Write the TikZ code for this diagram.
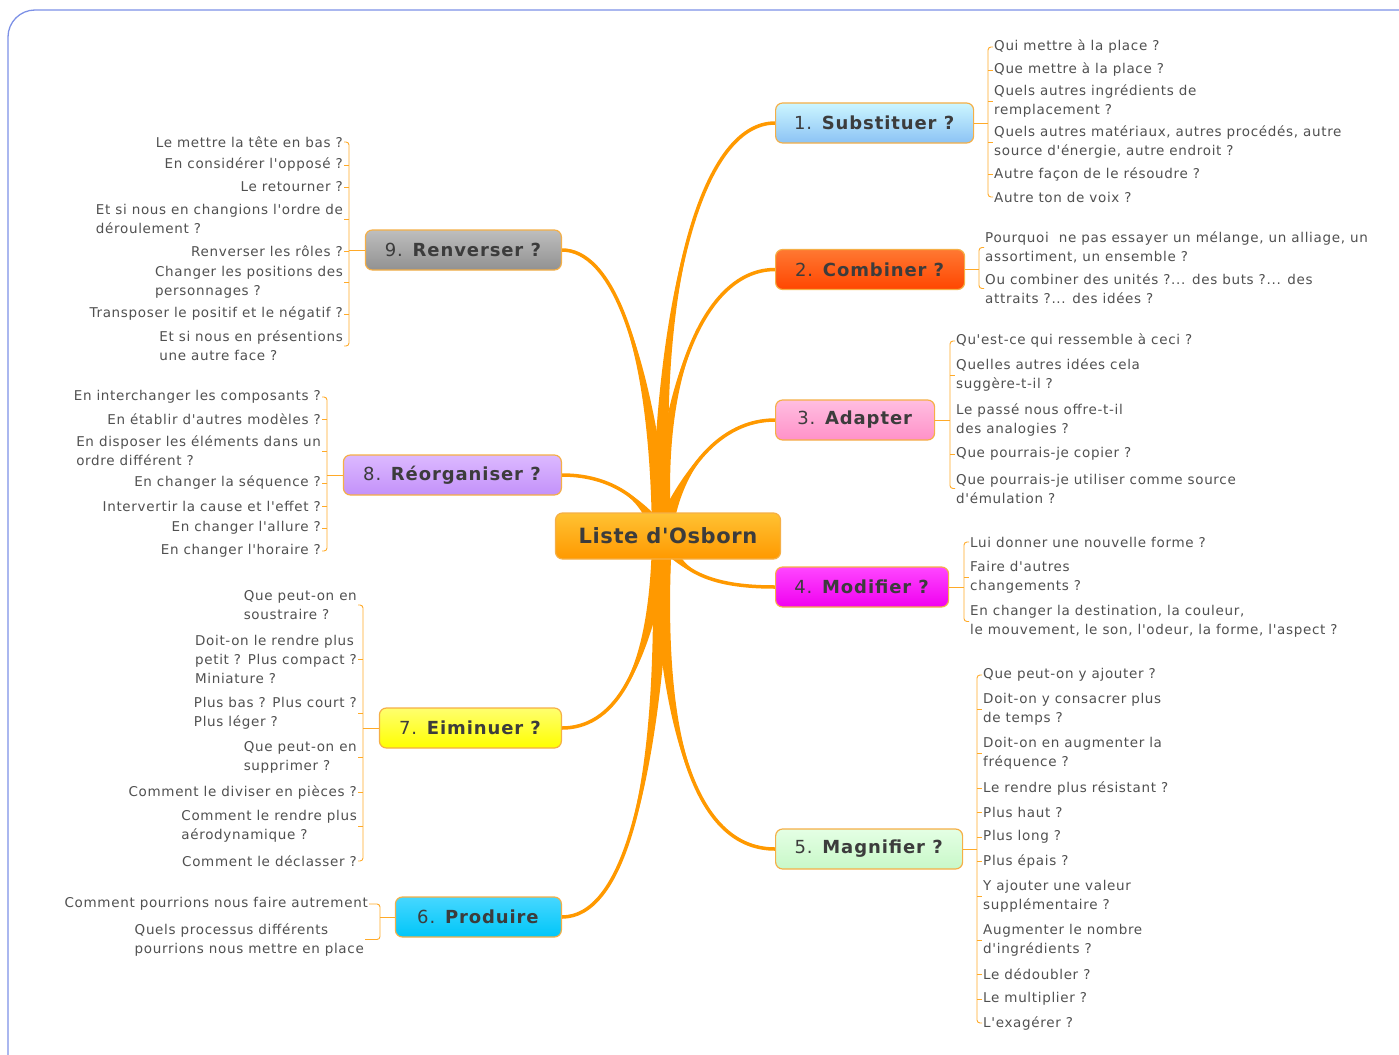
\documentclass[tikz,border=0pt]{standalone}
\usepackage{fontspec}
\setmainfont{DejaVu Sans}[Ligatures=TeXOff]
\newfontfamily\osbitem{DejaVu Sans}[Ligatures=TeXOff, LetterSpace=5]
\newfontfamily\osbhub{DejaVu Sans}[Ligatures=TeXOff, LetterSpace=3]
\usetikzlibrary{backgrounds}

\definecolor{osbFrame}{RGB}{125,145,230}
\definecolor{osbBranch}{RGB}{255,153,0}
\definecolor{osbTwig}{RGB}{255,170,40}
\definecolor{osbEdge}{RGB}{245,175,70}
\definecolor{osbText}{RGB}{60,60,60}
\definecolor{osbGray}{RGB}{80,80,80}

\newcommand{\osbranch}[3]{\fill[branch] ([xshift=-10pt]hub) .. controls #2 and #3 .. (#1)
  .. controls #3 and #2 .. ([xshift=10pt]hub) -- cycle;
  \draw[stem] (hub) .. controls #2 and #3 .. (#1);}

\tikzset{
  hubbox/.style={draw=osbEdge, line width=1.2pt, rounded corners=7pt, minimum width=225pt,
    minimum height=46pt, top color=orange!60!yellow!80, bottom color=osbBranch,
    text=osbText, font=\osbhub\fontsize{21}{24}\selectfont\bfseries},
  idea/.style={draw=osbEdge, line width=1.2pt, rounded corners=7pt, minimum height=40pt,
    anchor=#1, text=osbText, font=\osbitem\fontsize{18}{20}\selectfont},
  item/.style={inner sep=1pt, align=left, text=osbGray, font=\osbitem\fontsize{13.5}{19}\selectfont},
  twig/.style={draw=osbTwig, line width=0.9pt, rounded corners=3pt},
  branch/.style={fill=osbBranch},
  stem/.style={draw=osbBranch, line width=3.5pt, line cap=round}
}

\begin{document}
\begin{tikzpicture}[x=1pt, y=-1pt]
  \useasboundingbox (0,0) rectangle (1399,1054);
  \clip (0,0) rectangle (1399,1054);

  % Centre
  \node[hubbox] (osborn) at (668,536) {Liste d'Osborn};
  \coordinate (hub) at (662,536);

  % Ideas, right
  \node[idea=west, minimum width=198pt, top color=blue!18!cyan!20, bottom color={rgb,255:red,140;green,195;blue,245}]
    (subst) at (775,123) {1. \textbf{Substituer ?}};
  \node[idea=west, minimum width=189pt, top color={rgb,255:red,255;green,120;blue,50}, bottom color={rgb,255:red,255;green,70;blue,0}]
    (comb) at (775,269.5) {2. \textbf{Combiner ?}};
  \node[idea=west, minimum width=159pt, top color={rgb,255:red,255;green,190;blue,225}, bottom color={rgb,255:red,255;green,145;blue,200}]
    (adapt) at (775,420) {3. \textbf{Adapter}};
  \node[idea=west, minimum width=173pt, top color={rgb,255:red,255;green,70;blue,255}, bottom color={rgb,255:red,240;green,0;blue,240}]
    (modif) at (775,587) {4. \textbf{Modifier ?}};
  \node[idea=west, minimum width=187pt, top color={rgb,255:red,228;green,255;blue,228}, bottom color={rgb,255:red,200;green,248;blue,200}]
    (magni) at (775,849) {5. \textbf{Magnifier ?}};

  % Ideas, left
  \node[idea=east, minimum width=166pt, top color={rgb,255:red,70;green,215;blue,255}, bottom color={rgb,255:red,0;green,198;blue,248}]
    (prod) at (562,917) {6. \textbf{Produire}};
  \node[idea=east, minimum width=182pt, top color={rgb,255:red,255;green,255;blue,110}, bottom color={rgb,255:red,255;green,255;blue,0}]
    (elim) at (562,728) {7. \textbf{Eiminuer ?}};
  \node[idea=east, minimum width=218pt, top color={rgb,255:red,220;green,185;blue,255}, bottom color={rgb,255:red,195;green,145;blue,250}]
    (reorg) at (562,475) {8. \textbf{Réorganiser ?}};
  \node[idea=east, minimum width=196pt, top color={rgb,255:red,190;green,190;blue,190}, bottom color={rgb,255:red,145;green,145;blue,145}]
    (renv) at (562,250) {9. \textbf{Renverser ?}};

  % Substituer
  \node[item, anchor=west] (s1) at (993,47) {Qui mettre à la place ?};
  \node[item, anchor=west] (s2) at (993,70) {Que mettre à la place ?};
  \node[item, anchor=west] (s3) at (993,101) {Quels autres ingrédients de\\remplacement ?};
  \node[item, anchor=west] (s4) at (993,142) {Quels autres matériaux, autres procédés, autre\\source d'énergie, autre endroit ?};
  \node[item, anchor=west] (s5) at (993,174) {Autre façon de le résoudre ?};
  \node[item, anchor=west] (s6) at (993,197) {Autre ton de voix ?};
  \coordinate (ss) at (988,123);
  \draw[twig] (subst.east) -- (ss);
  \draw[twig] (s1.west) -| (ss) |- (s6.west);
  \draw[twig] (ss |- s2.west) -- (s2.west);
  \draw[twig] (ss |- s3.west) -- (s3.west);
  \draw[twig] (ss |- s4.west) -- (s4.west);
  \draw[twig] (ss |- s5.west) -- (s5.west);

  % Combiner
  \node[item, anchor=west] (c1) at (984,247.5) {Pourquoi~ ne pas essayer un mélange, un alliage, un\\assortiment, un ensemble ?};
  \node[item, anchor=west] (c2) at (984,288.5) {Ou combiner des unités ?... des buts ?... des\\attraits ?... des idées ?};
  \coordinate (cs) at (979,269.5);
  \draw[twig] (comb.east) -- (cs);
  \draw[twig] (c1.west) -| (cs) |- (c2.west);

  % Adapter
  \node[item, anchor=west] (a1) at (955,341) {Qu'est-ce qui ressemble à ceci ?};
  \node[item, anchor=west] (a2) at (955,375.5) {Quelles autres idées cela\\suggère-t-il ?};
  \node[item, anchor=west] (a3) at (955,420) {Le passé nous offre-t-il\\des analogies ?};
  \node[item, anchor=west] (a4) at (955,454) {Que pourrais-je copier ?};
  \node[item, anchor=west] (a5) at (955,488.5) {Que pourrais-je utiliser comme source\\d'émulation ?};
  \coordinate (as) at (950,420);
  \draw[twig] (adapt.east) -- (as);
  \draw[twig] (a1.west) -| (as) |- (a5.west);
  \draw[twig] (as |- a2.west) -- (a2.west);
  \draw[twig] (as |- a4.west) -- (a4.west);

  % Modifier
  \node[item, anchor=west] (m1) at (969,542) {Lui donner une nouvelle forme ?};
  \node[item, anchor=west] (m2) at (969,577) {Faire d'autres\\changements ?};
  \node[item, anchor=west] (m3) at (969,621.5) {En changer la destination, la couleur,\\le mouvement, le son, l'odeur, la forme, l'aspect ?};
  \coordinate (ms) at (964,587);
  \draw[twig] (modif.east) -- (ms);
  \draw[twig] (m1.west) -| (ms) |- (m3.west);
  \draw[twig] (ms |- m2.west) -- (m2.west);

  % Magnifier
  \node[item, anchor=west] (g1) at (982,675) {Que peut-on y ajouter ?};
  \node[item, anchor=west] (g2) at (982,709) {Doit-on y consacrer plus\\de temps ?};
  \node[item, anchor=west] (g3) at (982,753) {Doit-on en augmenter la\\fréquence ?};
  \node[item, anchor=west] (g4) at (982,788) {Le rendre plus résistant ?};
  \node[item, anchor=west] (g5) at (982,812) {Plus haut ?};
  \node[item, anchor=west] (g6) at (982,837) {Plus long ?};
  \node[item, anchor=west] (g7) at (982,861) {Plus épais ?};
  \node[item, anchor=west] (g8) at (982,896) {Y ajouter une valeur\\supplémentaire ?};
  \node[item, anchor=west] (g9) at (982,940) {Augmenter le nombre\\d'ingrédients ?};
  \node[item, anchor=west] (g10) at (982,974) {Le dédoubler ?};
  \node[item, anchor=west] (g11) at (982,999) {Le multiplier ?};
  \node[item, anchor=west] (g12) at (982,1023) {L'exagérer ?};
  \coordinate (gs) at (977,849);
  \draw[twig] (magni.east) -- (gs);
  \draw[twig] (g1.west) -| (gs) |- (g12.west);
  \draw[twig] (gs |- g2.west) -- (g2.west);
  \draw[twig] (gs |- g3.west) -- (g3.west);
  \draw[twig] (gs |- g4.west) -- (g4.west);
  \draw[twig] (gs |- g5.west) -- (g5.west);
  \draw[twig] (gs |- g6.west) -- (g6.west);
  \draw[twig] (gs |- g7.west) -- (g7.west);
  \draw[twig] (gs |- g8.west) -- (g8.west);
  \draw[twig] (gs |- g9.west) -- (g9.west);
  \draw[twig] (gs |- g10.west) -- (g10.west);
  \draw[twig] (gs |- g11.west) -- (g11.west);

  % Produire
  \node[item, anchor=east] (p1) at (369,904) {Comment pourrions nous faire autrement};
  \node[item, anchor=east] (p2) at (365,939.5) {Quels processus différents\\pourrions nous mettre en place};
  \coordinate (ps) at (380,917);
  \draw[twig] (prod.west) -- (ps);
  \draw[twig] (p1.east) -| (ps) |- (p2.east);

  % Eiminuer
  \node[item, anchor=east] (e1) at (358,605) {Que peut-on en\\soustraire ?};
  \node[item, anchor=east] (e2) at (358,659) {Doit-on le rendre plus\\petit ? Plus compact ?\\Miniature ?};
  \node[item, anchor=east] (e3) at (358,713) {Plus bas ? Plus court ?\\Plus léger ?};
  \node[item, anchor=east] (e4) at (358,757.5) {Que peut-on en\\supprimer ?};
  \node[item, anchor=east] (e5) at (358,792) {Comment le diviser en pièces ?};
  \node[item, anchor=east] (e6) at (358,826) {Comment le rendre plus\\aérodynamique ?};
  \node[item, anchor=east] (e7) at (358,861) {Comment le déclasser ?};
  \coordinate (es) at (363,728);
  \draw[twig] (elim.west) -- (es);
  \draw[twig] (e1.east) -| (es) |- (e7.east);
  \draw[twig] (es |- e2.east) -- (e2.east);
  \draw[twig] (es |- e3.east) -- (e3.east);
  \draw[twig] (es |- e4.east) -- (e4.east);
  \draw[twig] (es |- e5.east) -- (e5.east);
  \draw[twig] (es |- e6.east) -- (e6.east);

  % Réorganiser
  \node[item, anchor=east] (r1) at (322,397) {En interchanger les composants ?};
  \node[item, anchor=east] (r2) at (322,419) {En établir d'autres modèles ?};
  \node[item, anchor=east] (r3) at (322,451) {En disposer les éléments dans un\\ordre différent ?};
  \node[item, anchor=east] (r4) at (322,483) {En changer la séquence ?};
  \node[item, anchor=east] (r5) at (322,506) {Intervertir la cause et l'effet ?};
  \node[item, anchor=east] (r6) at (322,528) {En changer l'allure ?};
  \node[item, anchor=east] (r7) at (322,551) {En changer l'horaire ?};
  \coordinate (rs) at (327,475);
  \draw[twig] (reorg.west) -- (rs);
  \draw[twig] (r1.east) -| (rs) |- (r7.east);
  \draw[twig] (rs |- r2.east) -- (r2.east);
  \draw[twig] (rs |- r3.east) -- (r3.east);
  \draw[twig] (rs |- r4.east) -- (r4.east);
  \draw[twig] (rs |- r5.east) -- (r5.east);
  \draw[twig] (rs |- r6.east) -- (r6.east);

  % Renverser
  \node[item, anchor=east] (v1) at (344,142) {Le mettre la tête en bas ?};
  \node[item, anchor=east] (v2) at (344,165) {En considérer l'opposé ?};
  \node[item, anchor=east] (v3) at (344,187) {Le retourner ?};
  \node[item, anchor=east] (v4) at (344,219) {Et si nous en changions l'ordre de\\déroulement ?};
  \node[item, anchor=east] (v5) at (344,251) {Renverser les rôles ?};
  \node[item, anchor=east] (v6) at (344,282.5) {Changer les positions des\\personnages ?};
  \node[item, anchor=east] (v7) at (344,314) {Transposer le positif et le négatif ?};
  \node[item, anchor=east] (v8) at (344,346) {Et si nous en présentions\\une autre face ?};
  \coordinate (vs) at (349,250);
  \draw[twig] (renv.west) -- (vs);
  \draw[twig] (v1.east) -| (vs) |- (v8.east);
  \draw[twig] (vs |- v2.east) -- (v2.east);
  \draw[twig] (vs |- v3.east) -- (v3.east);
  \draw[twig] (vs |- v4.east) -- (v4.east);
  \draw[twig] (vs |- v5.east) -- (v5.east);
  \draw[twig] (vs |- v6.east) -- (v6.east);
  \draw[twig] (vs |- v7.east) -- (v7.east);

  % Frame and branches
  \begin{scope}[on background layer]
    \draw[osbFrame, line width=1.3pt, rounded corners=27pt] (8,10) rectangle (1440,1090);
    \osbranch{subst.west}{(655,300)}{(700,123)}
    \osbranch{comb.west}{(660,380)}{(705,269.5)}
    \osbranch{adapt.west}{(680,470)}{(720,420)}
    \osbranch{modif.west}{(680,580)}{(730,587)}
    \osbranch{magni.west}{(660,760)}{(705,849)}
    \osbranch{prod.east}{(660,800)}{(620,917)}
    \osbranch{elim.east}{(650,680)}{(610,728)}
    \osbranch{reorg.east}{(640,490)}{(600,475)}
    \osbranch{renv.east}{(650,340)}{(610,250)}
  \end{scope}
\end{tikzpicture}
\end{document}
